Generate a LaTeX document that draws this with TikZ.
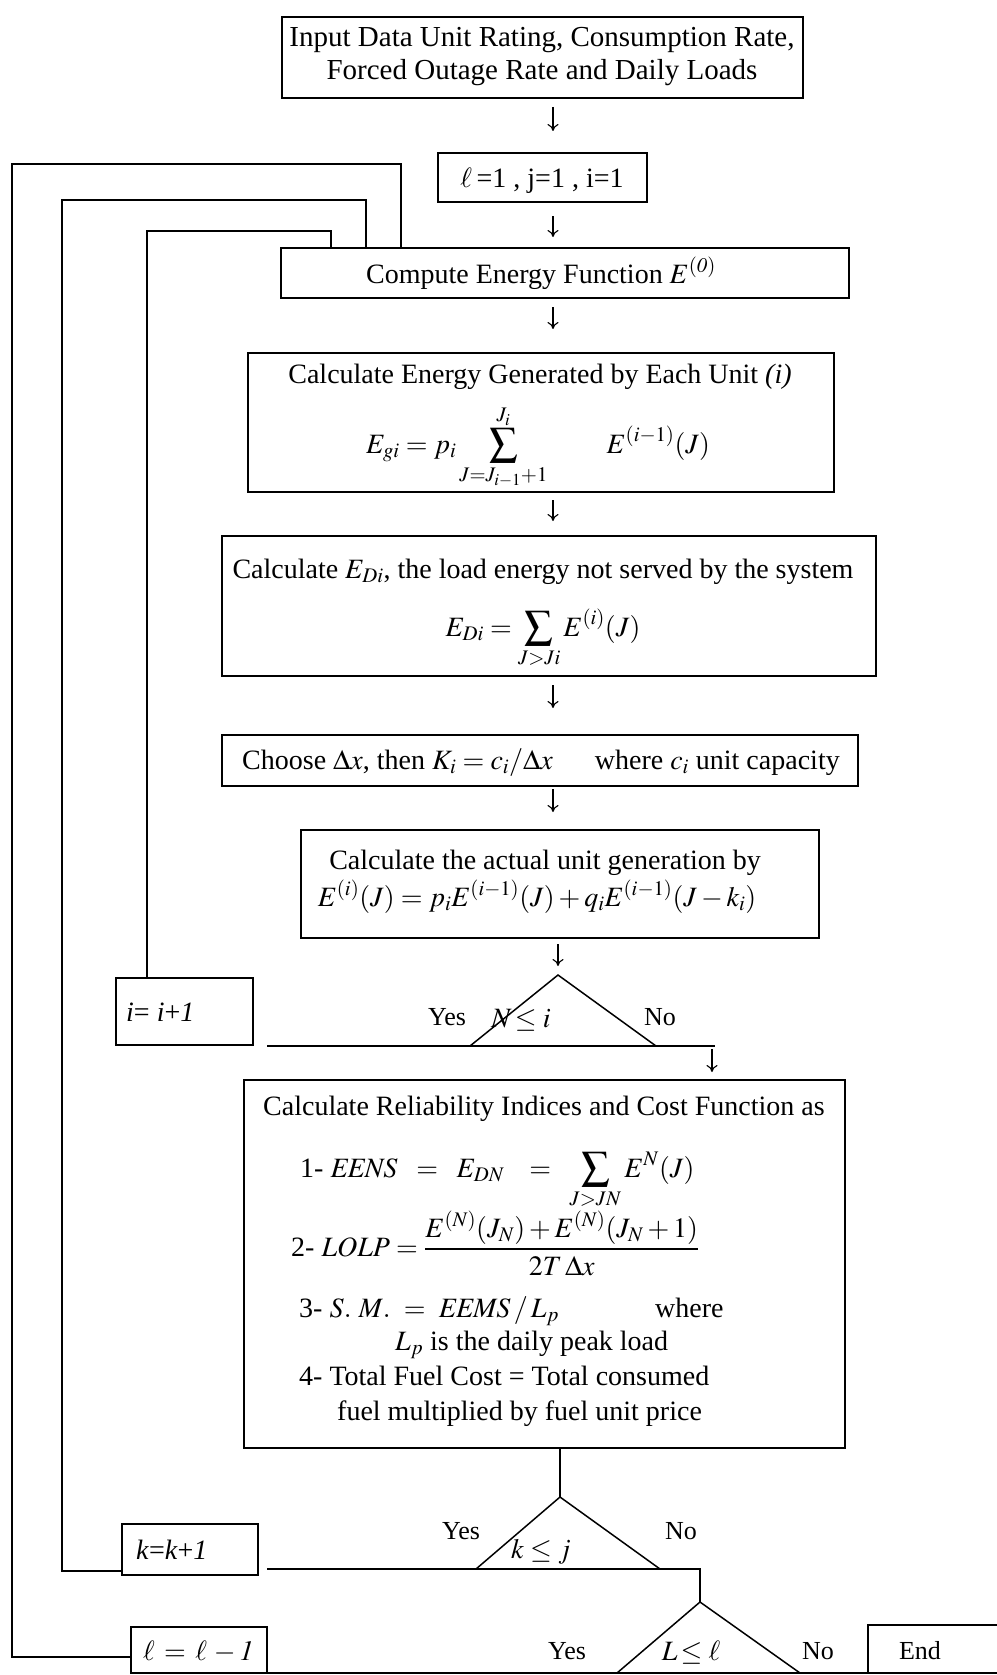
\documentclass[tikz,border=0pt]{standalone}
\usepackage{mathptmx}
\usepackage{fontspec}
\setmainfont{Liberation Serif}
\usetikzlibrary{calc,arrows.meta}
\begin{document}
\begin{tikzpicture}[x=1pt,y=-1pt,
  ln/.style={line width=1.5pt},
  box/.style={draw,line width=1.5pt,inner sep=0pt,outer sep=0pt},
  arr/.style={line width=1.1pt,-{To[length=7pt,width=11pt]}},
  txt/.style={inner sep=0pt,anchor=base,font=\fontsize{28}{34}\selectfont},
  lab/.style={inner sep=0pt,anchor=base,font=\fontsize{26}{30}\selectfont}]
\useasboundingbox (0,0) rectangle (996,1675);

% boxes
\node[box,minimum width=521pt,minimum height=81pt] (top) at (542.5,57.5) {};
\node[box,minimum width=209pt,minimum height=49pt] (init) at (542.5,177.5) {};
\node[box,minimum width=568pt,minimum height=50pt] (compute) at (565,273) {};
\node[box,minimum width=586pt,minimum height=139pt] (gen) at (541,422.5) {};
\node[box,minimum width=654pt,minimum height=140pt] (ed) at (549,606) {};
\node[box,minimum width=636pt,minimum height=51pt] (choose) at (540,760.5) {};
\node[box,minimum width=518pt,minimum height=108pt] (actual) at (560,884) {};
\node[box,minimum width=137pt,minimum height=67pt] (ibox) at (184.5,1011.5) {};
\node[box,minimum width=601pt,minimum height=368pt] (rel) at (544.5,1264) {};
\node[box,minimum width=136pt,minimum height=51pt] (kbox) at (190,1549.5) {};
\node[box,minimum width=136pt,minimum height=46pt] (lbox) at (199,1650) {};
\node[box,minimum width=132pt,minimum height=48pt] (endbox) at (934,1649) {};

% texts
\node[txt,font=\fontsize{29}{35}\selectfont] (t1a) at (542,47) {Input Data Unit Rating, Consumption Rate,};
\node[txt,font=\fontsize{29}{35}\selectfont] (t1b) at (542,80) {Forced Outage Rate and Daily Loads};
\node[txt] (t2) at (542,187) {$\ell$\,=1 , j=1 , i=1};
\node[txt] (t3) at (541,283) {Compute Energy Function $E^{\mathit{(0)}}$};
\node[txt] (t4a) at (540,383) {Calculate Energy Generated by Each Unit \textit{(i)}};
\node[txt] (t4b) at (538,453) {$E_{gi}=p_i\displaystyle\sum_{J=J_{i-1}+1}^{J_i}\qquad E^{(i-1)}(J)$};
\node[txt] (t5a) at (543,578) {Calculate $E_{Di}$, the load energy not served by the system};
\node[txt] (t5b) at (543,636) {$E_{Di}=\displaystyle\sum_{J>Ji}E^{(i)}(J)$};
\node[txt] (t6) at (541,769) {Choose $\Delta x$, then $K_i=c_i/\Delta x$\quad\ \ where $c_i$ unit capacity};
\node[txt] (t7a) at (545,869) {Calculate the actual unit generation by};
\node[txt] (t7b) at (537,906) {$E^{(i)}(J)=p_iE^{(i-1)}(J)+q_iE^{(i-1)}(J-k_i)$};
\node[txt,anchor=base west] (ti) at (126,1021) {\textit{i}= \textit{i}+\textit{1}};
\node[txt,anchor=base west] (r0) at (263,1115) {Calculate Reliability Indices and Cost Function as};
\node[txt,anchor=base west] (r1) at (300,1177) {1- $\mathit{EENS}\;\;=\;\;E_{\mathit{DN}}\;\;\;=\;\;\displaystyle\sum_{J>JN}E^N(J)$};
\node[txt,anchor=base west] (r2) at (291,1256) {2- $\mathit{LOLP}=\displaystyle\frac{E^{(N)}(J_N)+E^{(N)}(J_N+1)}{2T\,\Delta x}$};
\node[txt,anchor=base west] (r3) at (299,1317) {3- $\mathit{S.\ M.}\ =\ \mathit{EEMS}\,/\,L_p$};
\node[txt,anchor=base west] (r3b) at (655,1317) {where};
\node[txt,anchor=base west] (r4) at (395,1350) {$L_p$ is the daily peak load};
\node[txt,anchor=base west] (r5) at (299,1385) {4- Total Fuel Cost = Total consumed};
\node[txt,anchor=base west] (r6) at (337,1420) {fuel multiplied by fuel unit price};
\node[txt,anchor=base west] (tk) at (136,1559) {\textit{k}=\textit{k}+\textit{1}};
\node[txt,anchor=base west] (tl) at (143,1660) {$\ell\,=\,\ell\,-\mathit{1}$};
\node[lab] (tend) at (920,1659) {End};

% arrow column
\coordinate (ax) at (553,0);
\coordinate (ax2) at (712,0);
\draw[arr,shorten <=9pt,shorten >=22pt] (top.south -| ax) -- (init.north -| ax);
\draw[arr,shorten <=14pt,shorten >=11pt] (init.south -| ax) -- (compute.north -| ax);
\draw[arr,shorten <=9pt,shorten >=24pt] (compute.south -| ax) -- (gen.north -| ax);
\draw[arr,shorten <=8pt,shorten >=15pt] (gen.south -| ax) -- (ed.north -| ax);
\draw[arr,shorten <=9pt,shorten >=27pt] (ed.south -| ax) -- (choose.north -| ax);
\draw[arr,shorten <=3pt,shorten >=18pt] (choose.south -| ax) -- (actual.north -| ax);

% decision N <= i
\coordinate (Na) at (558,975);
\coordinate (Nl) at (470,1046);
\coordinate (Nr) at (656,1046);
\coordinate (Ne) at (715,1046);
\draw[arr,shorten <=6pt,shorten >=9pt] (actual.south -| Na) -- (Na);
\draw[ln] (Nl) -- (Na) -- (Nr);
\draw[ln] ($(ibox.south east)+(14,1)$) -- (Ne);
\draw[arr,shorten <=3pt,shorten >=8pt] (Ne -| ax2) -- (rel.north -| ax2);
\node[lab] (ny) at (447,1025) {Yes};
\node[lab] (nn) at (660,1025) {No};
\node[txt] (nc) at (521,1027) {$N\!\leq i$};

% decisions k <= j and L <= l
\coordinate (Ka) at (560,1497);
\coordinate (Kl) at (476,1569);
\coordinate (Kr) at (660,1569);
\coordinate (Kc) at (700,1569);
\coordinate (La) at (700,1602);
\coordinate (Ll) at (617,1673);
\coordinate (Lr) at (800,1673);
\draw[ln] (rel.south -| Ka) -- (Ka);
\draw[ln] (Kl) -- (Ka) -- (Kr);
\draw[ln] ($(kbox.east |- Kc)+(9,0)$) -- (Kc) -- (La);
\draw[ln] (Ll) -- (La) -- (Lr);
\draw[ln] (lbox.south east) -- (endbox.south west);
\node[lab] (ky) at (461,1539) {Yes};
\node[lab] (kn) at (681,1539) {No};
\node[txt] (kc) at (541,1558) {$k\leq j$};
\node[lab] (ly) at (567,1659) {Yes};
\node[lab] (lnn) at (818,1659) {No};
\node[txt] (lc) at (691,1660) {$L\!\leq\ell$};

% feedback loops
\coordinate (o0) at (12,1657);
\coordinate (o1) at (12,164);
\coordinate (o2) at (401,164);
\coordinate (s0) at (62,1571);
\coordinate (s1) at (62,200);
\coordinate (s2) at (366,200);
\coordinate (u1) at (147,231);
\coordinate (u2) at (331,231);
\draw[ln] (lbox.west |- o0) -- (o0) -- (o1) -- (o2) -- (o2 |- compute.north);
\draw[ln] (kbox.west |- s0) -- (s0) -- (s1) -- (s2) -- (s2 |- compute.north);
\draw[ln] (ibox.north -| u1) -- (u1) -- (u2) -- (u2 |- compute.north);
\end{tikzpicture}
\end{document}
